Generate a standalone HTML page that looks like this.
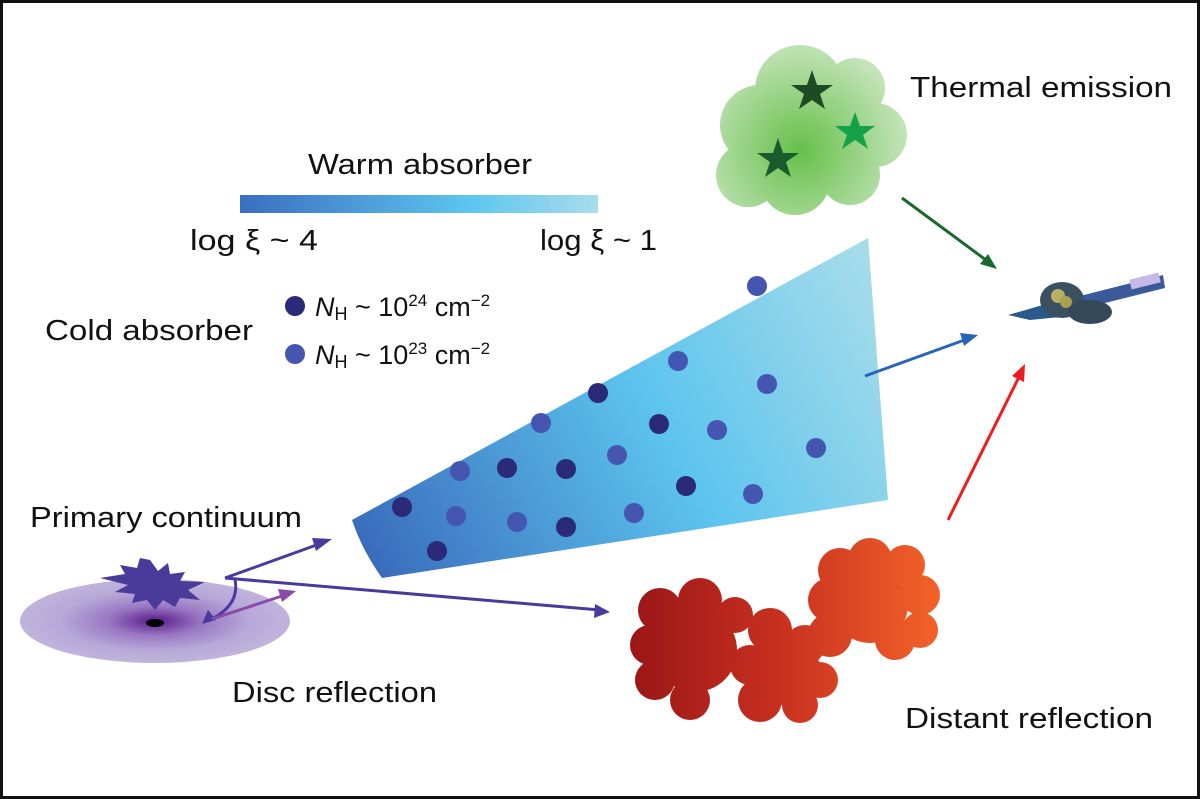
<!DOCTYPE html>
<html><head><meta charset="utf-8"><style>
html,body{margin:0;padding:0;background:#fff}
svg{display:block}
text{font-family:"Liberation Sans",Arial,sans-serif;fill:#111}
</style></head><body>
<svg width="1200" height="799" viewBox="0 0 1200 799">
<defs>
<linearGradient id="wa" x1="0" x2="1"><stop offset="0" stop-color="#3a6fc0"/><stop offset="0.65" stop-color="#5ec6f0"/><stop offset="1" stop-color="#a9dcea"/></linearGradient>
<linearGradient id="wedge" gradientUnits="userSpaceOnUse" x1="380" y1="580" x2="890" y2="300"><stop offset="0" stop-color="#3a6cbc"/><stop offset="0.55" stop-color="#5cc4ee"/><stop offset="1" stop-color="#a6dcea"/></linearGradient>
<radialGradient id="disc" cx="0.5" cy="0.5" r="0.5"><stop offset="0" stop-color="#5a1a8a"/><stop offset="0.35" stop-color="#9a78c4"/><stop offset="0.7" stop-color="#b6a8d8"/><stop offset="1" stop-color="#c0b4dc"/></radialGradient>
<radialGradient id="green" gradientUnits="userSpaceOnUse" cx="800" cy="150" r="110"><stop offset="0" stop-color="#66c04a"/><stop offset="1" stop-color="#c6e4bc"/></radialGradient>
<linearGradient id="red" gradientUnits="userSpaceOnUse" x1="630" y1="0" x2="930" y2="0"><stop offset="0" stop-color="#9a1616"/><stop offset="0.5" stop-color="#c83020"/><stop offset="1" stop-color="#f06028"/></linearGradient>
</defs>
<rect x="1.5" y="1.5" width="1197" height="796" fill="#fff" stroke="#111" stroke-width="3"/>

<text x="308" y="174" font-size="29" textLength="224" lengthAdjust="spacingAndGlyphs">Warm absorber</text>
<rect x="240" y="195" width="358" height="18" fill="url(#wa)"/>
<text x="190" y="250" font-size="29" textLength="128" lengthAdjust="spacingAndGlyphs">log ξ  ~ 4</text>
<text x="540" y="250" font-size="29" textLength="117" lengthAdjust="spacingAndGlyphs">log ξ  ~ 1</text>

<text x="45" y="340" font-size="29" textLength="208" lengthAdjust="spacingAndGlyphs">Cold absorber</text>
<circle cx="295" cy="306" r="10" fill="#2a2a78"/>
<circle cx="295" cy="354" r="10" fill="#4456b0"/>
<text x="315" y="316" font-size="27"><tspan font-style="italic">N</tspan><tspan font-size="18" dy="4">H</tspan><tspan dy="-4"> ~ 10</tspan><tspan font-size="17" dy="-10">24</tspan><tspan dy="10"> cm</tspan><tspan font-size="17" dy="-10">−2</tspan></text>
<text x="315" y="364" font-size="27"><tspan font-style="italic">N</tspan><tspan font-size="18" dy="4">H</tspan><tspan dy="-4"> ~ 10</tspan><tspan font-size="17" dy="-10">23</tspan><tspan dy="10"> cm</tspan><tspan font-size="17" dy="-10">−2</tspan></text>

<path d="M352,520 L868,238 L888,500 L382,578 Q362,550 352,520 Z" fill="url(#wedge)"/>
<g fill="#4456b0">
<circle cx="757" cy="286" r="10"/><circle cx="678" cy="361" r="10"/><circle cx="767" cy="384" r="10"/><circle cx="541" cy="423" r="10"/><circle cx="717" cy="430" r="10"/><circle cx="816" cy="448" r="10"/><circle cx="460" cy="471" r="10"/><circle cx="617" cy="455" r="10"/><circle cx="753" cy="494" r="10"/><circle cx="456" cy="516" r="10"/><circle cx="517" cy="522" r="10"/><circle cx="634" cy="513" r="10"/>
</g>
<g fill="#2a2a78">
<circle cx="598" cy="393" r="10"/><circle cx="659" cy="424" r="10"/><circle cx="507" cy="468" r="10"/><circle cx="566" cy="469" r="10"/><circle cx="686" cy="486" r="10"/><circle cx="402" cy="507" r="10"/><circle cx="566" cy="527" r="10"/><circle cx="437" cy="551" r="10"/>
</g>

<g fill="url(#green)">
<circle cx="800" cy="90" r="45"/><circle cx="855" cy="88" r="30"/><circle cx="875" cy="135" r="32"/><circle cx="760" cy="125" r="40"/><circle cx="748" cy="175" r="32"/><circle cx="795" cy="180" r="35"/><circle cx="850" cy="175" r="30"/><circle cx="815" cy="135" r="50"/>
</g>
<polygon points="812,70 817,85 833,85 820,94 825,109 812,100 799,109 804,94 791,85 807,85" fill="#1e4a24"/>
<polygon points="855,112 860,126 875,126 863,135 868,149 855,140 842,149 847,135 835,126 850,126" fill="#16a04a"/>
<polygon points="778,138 783,153 799,153 786,162 791,177 778,168 765,177 770,162 757,153 773,153" fill="#1a5a2c"/>
<text x="910" y="97" font-size="29" textLength="262" lengthAdjust="spacingAndGlyphs">Thermal emission</text>

<line x1="902" y1="198" x2="990" y2="263" stroke="#1a6a2e" stroke-width="3"/>
<polygon points="997,269 980,264 988,254" fill="#1a6a2e"/>

<g>
<polygon points="1008,315 1060,300 1080,315 1030,320" fill="#2a5a8a"/>
<polygon points="1080,296 1163,275 1165,288 1085,308" fill="#3a5a9a"/>
<rect x="1130" y="276" width="30" height="10" fill="#c8b8e8" transform="rotate(-14 1145 281)"/>
<ellipse cx="1062" cy="300" rx="22" ry="18" fill="#3a5060"/>
<ellipse cx="1090" cy="312" rx="22" ry="12" fill="#34485a"/>
<circle cx="1058" cy="296" r="7" fill="#b8b060"/><circle cx="1066" cy="302" r="6" fill="#a8a050"/>
</g>

<line x1="865" y1="376" x2="970" y2="338" stroke="#2a64b8" stroke-width="3"/>
<polygon points="978,335 964,346 960,333" fill="#2a64b8"/>

<line x1="948" y1="520" x2="1020" y2="375" stroke="#ee1c1c" stroke-width="3"/>
<polygon points="1025,364 1024,382 1012,376" fill="#ee1c1c"/>

<g fill="url(#red)">
<circle cx="840" cy="570" r="22"/><circle cx="870" cy="560" r="22"/><circle cx="905" cy="565" r="20"/><circle cx="920" cy="595" r="20"/><circle cx="920" cy="630" r="18"/><circle cx="830" cy="600" r="22"/><circle cx="830" cy="635" r="22"/><circle cx="870" cy="605" r="38"/><circle cx="895" cy="640" r="20"/>
<circle cx="660" cy="610" r="22"/><circle cx="700" cy="600" r="22"/><circle cx="735" cy="615" r="18"/><circle cx="650" cy="645" r="20"/><circle cx="655" cy="680" r="20"/><circle cx="690" cy="700" r="20"/><circle cx="695" cy="650" r="42"/>
<circle cx="770" cy="630" r="22"/><circle cx="805" cy="645" r="20"/><circle cx="750" cy="665" r="20"/><circle cx="760" cy="700" r="22"/><circle cx="800" cy="705" r="18"/><circle cx="820" cy="680" r="18"/><circle cx="785" cy="670" r="35"/>
</g>
<text x="905" y="728" font-size="29" textLength="248" lengthAdjust="spacingAndGlyphs">Distant reflection</text>

<ellipse cx="155" cy="621" rx="135" ry="42" fill="url(#disc)"/>
<ellipse cx="155" cy="623" rx="9" ry="4" fill="#000"/>
<polygon points="150,560 158,571 168,563 170,574 185,572 180,581 205,582 188,590 200,600 180,598 175,607 163,600 155,610 147,600 132,603 135,594 115,592 128,585 100,578 125,574 120,565 137,568 140,558" fill="#4a3a9a"/>
<text x="30" y="527" font-size="29" textLength="272" lengthAdjust="spacingAndGlyphs">Primary continuum</text>
<text x="232" y="702" font-size="29" textLength="205" lengthAdjust="spacingAndGlyphs">Disc reflection</text>

<g stroke="#4a3aa0" stroke-width="3" fill="none">
<line x1="225" y1="578" x2="322" y2="543"/>
<line x1="225" y1="578" x2="600" y2="610"/>
<path d="M235,580 Q240,605 210,620"/>
</g>
<polygon points="332,539 316,551 312,538" fill="#4a3aa0"/>
<polygon points="610,612 594,618 595,604" fill="#4a3aa0"/>
<polygon points="202,624 208,610 216,620" fill="#4a3aa0"/>
<line x1="212" y1="619" x2="282" y2="596" stroke="#8a4aa8" stroke-width="3"/>
<polygon points="296,591 282,602 278,589" fill="#8a4aa8"/>
</svg>
</body></html>
